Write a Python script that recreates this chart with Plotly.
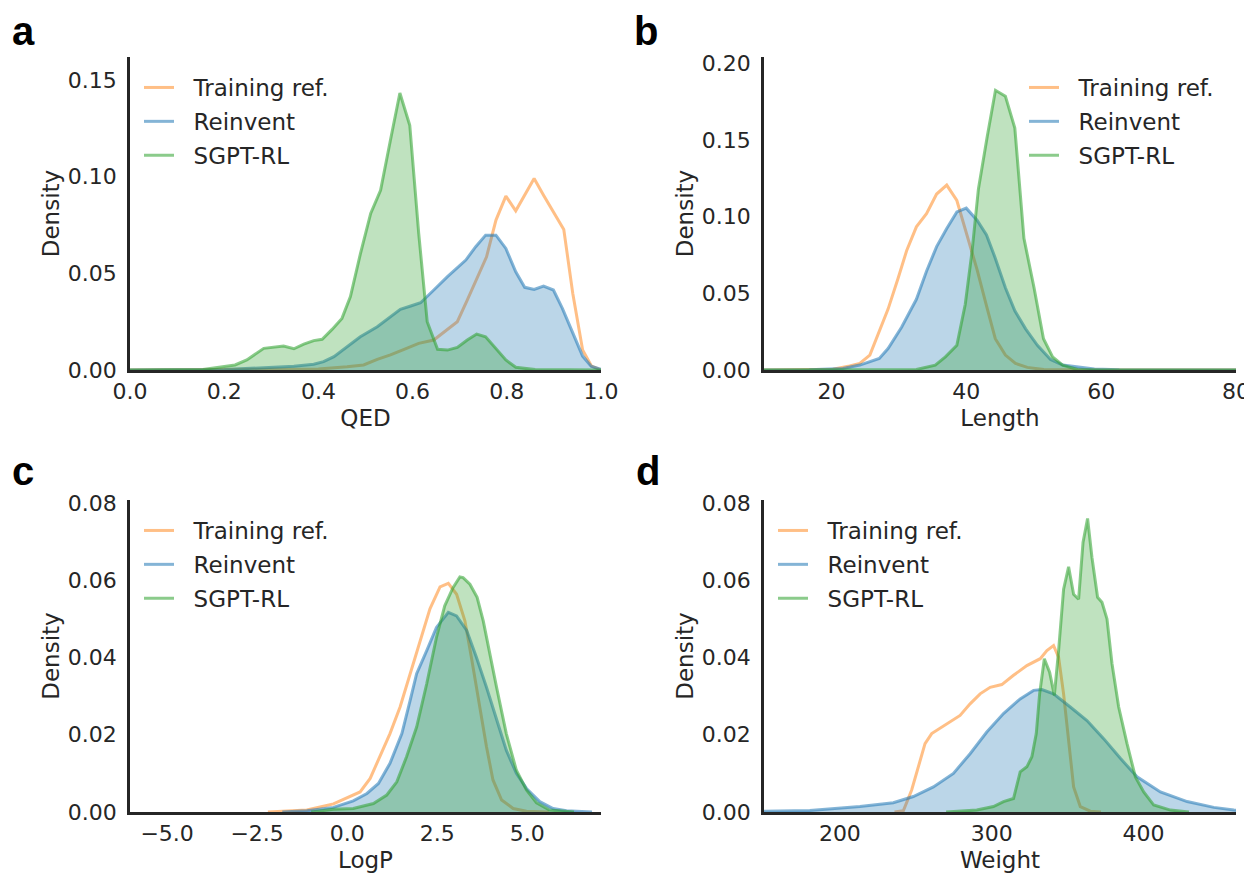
import plotly.graph_objects as go

# ---------------- data ----------------
qed_train_x = [0.0, 0.30, 0.40, 0.461, 0.496, 0.525, 0.553, 0.582, 0.613, 0.645, 0.670, 0.695, 0.716, 0.738, 0.757,
               0.777, 0.798, 0.819, 0.838, 0.858, 0.878, 0.899, 0.921, 0.940, 0.961, 0.980, 1.0]
qed_train_y = [0.0, 0.0001, 0.0005, 0.0017, 0.0026, 0.0055, 0.0078, 0.0107, 0.0138, 0.0155, 0.0203, 0.025, 0.0362,
               0.0483, 0.0586, 0.0776, 0.090, 0.0824, 0.0905, 0.0991, 0.0905, 0.0819, 0.0727, 0.0397, 0.0103, 0.002, 0.0]
qed_rein_x = [0.0, 0.20, 0.284, 0.348, 0.390, 0.411, 0.433, 0.461, 0.489, 0.525, 0.553, 0.574, 0.596, 0.617, 0.645,
              0.674, 0.713, 0.734, 0.755, 0.777, 0.798, 0.819, 0.838, 0.858, 0.878, 0.899, 0.918, 0.940, 0.961, 0.979, 1.0]
qed_rein_y = [0.0, 0.0002, 0.0012, 0.002, 0.003, 0.0043, 0.0069, 0.012, 0.0172, 0.0224, 0.0276, 0.0314, 0.0331, 0.0348,
              0.0414, 0.0483, 0.0569, 0.0638, 0.0698, 0.0698, 0.0629, 0.0508, 0.0428, 0.0417, 0.0434, 0.0414, 0.0319,
              0.019, 0.0072, 0.002, 0.0003]
qed_sgpt_x = [0.0, 0.155, 0.223, 0.248, 0.284, 0.326, 0.348, 0.369, 0.390, 0.408, 0.429, 0.450, 0.468, 0.489, 0.511,
              0.532, 0.553, 0.573, 0.594, 0.613, 0.631, 0.653, 0.674, 0.695, 0.716, 0.736, 0.755, 0.777, 0.798, 0.819,
              0.86, 1.0]
qed_sgpt_y = [0.0, 0.0003, 0.0026, 0.0052, 0.0112, 0.0124, 0.011, 0.0134, 0.0152, 0.0159, 0.021, 0.0267, 0.038, 0.060,
              0.081, 0.093, 0.119, 0.1434, 0.1267, 0.0707, 0.025, 0.0107, 0.0103, 0.0117, 0.0155, 0.0186, 0.0172,
              0.0112, 0.0052, 0.0014, 0.0002, 0.0]

len_train_x = [10, 16.0, 20.2, 22.7, 24.2, 25.7, 26.9, 28.4, 29.9, 31.15, 32.6, 34.1, 35.6, 37.1, 38.6, 40.1, 41.6,
               43.0, 44.3, 45.8, 47.3, 49.05, 51.5, 60, 80]
len_train_y = [0.0, 0.0001, 0.0005, 0.0026, 0.0043, 0.0097, 0.0225, 0.0397, 0.060, 0.0777, 0.0933, 0.1019, 0.1147,
               0.1205, 0.1105, 0.088, 0.0654, 0.0418, 0.0204, 0.0097, 0.0043, 0.0017, 0.0003, 0.0, 0.0]
len_rein_x = [10, 16.7, 21.7, 24.2, 27.1, 28.4, 30.4, 32.6, 34.1, 35.6, 37.1, 38.6, 40.0, 41.6, 43.0, 44.3, 45.8, 47.2,
              48.8, 50.55, 52.5, 54.3, 59.0, 62.7, 80]
len_rein_y = [0.0, 0.0002, 0.001, 0.0032, 0.0075, 0.014, 0.0279, 0.0461, 0.0644, 0.0804, 0.0922, 0.103, 0.1055, 0.0976,
              0.088, 0.0729, 0.0536, 0.0386, 0.0268, 0.0161, 0.0069, 0.0032, 0.0006, 0.0001, 0.0]
len_sgpt_x = [10, 28.0, 32.6, 35.4, 36.9, 38.6, 39.85, 40.85, 41.8, 43.1, 44.33, 45.8, 47.2, 48.55, 50.05, 51.45, 52.8,
              54.3, 56.5, 60, 80]
len_sgpt_y = [0.0, 0.0, 0.0003, 0.0032, 0.0086, 0.0161, 0.0429, 0.0772, 0.118, 0.152, 0.1823, 0.1785, 0.1577, 0.0858,
              0.0536, 0.0204, 0.0086, 0.0032, 0.0003, 0.0, 0.0]

logp_train_x = [-2.2, -1.8, -1.12, -0.38, 0.36, 0.64, 0.91, 1.19, 1.47, 1.75, 2.02, 2.30, 2.58, 2.81, 3.04, 3.27, 3.45,
                3.68, 3.87, 4.05, 4.29, 4.61, 4.98, 5.6]
logp_train_y = [0.0, 0.0002, 0.0005, 0.0021, 0.0052, 0.0087, 0.0143, 0.0203, 0.0272, 0.0358, 0.0444, 0.0526, 0.0583,
                0.0592, 0.0564, 0.0495, 0.0401, 0.0272, 0.0169, 0.0083, 0.0031, 0.0009, 0.0002, 0.0]
logp_rein_x = [-1.8, -1.12, -0.38, 0.17, 0.55, 0.87, 1.19, 1.52, 1.75, 1.93, 2.21, 2.48, 2.81, 3.04, 3.32, 3.59, 3.87,
               4.15, 4.42, 4.70, 4.98, 5.35, 5.72, 6.09, 6.8]
logp_rein_y = [0.0, 0.0003, 0.0012, 0.0029, 0.0048, 0.0074, 0.0126, 0.0203, 0.0289, 0.0358, 0.0418, 0.0478, 0.0517,
               0.0508, 0.047, 0.0401, 0.0323, 0.0237, 0.016, 0.010, 0.0061, 0.0027, 0.0009, 0.0003, 0.0]
logp_sgpt_x = [-1.0, -0.38, 0.17, 0.73, 1.10, 1.38, 1.65, 1.93, 2.21, 2.48, 2.71, 2.94, 3.13, 3.22, 3.41, 3.61, 3.78,
               3.96, 4.15, 4.42, 4.70, 4.98, 5.26, 5.62, 6.3]
logp_sgpt_y = [0.0, 0.0007, 0.0009, 0.0022, 0.0044, 0.0078, 0.0143, 0.022, 0.0332, 0.0452, 0.0534, 0.0581, 0.0609,
               0.0607, 0.059, 0.0556, 0.0495, 0.041, 0.0323, 0.0203, 0.0108, 0.0057, 0.0024, 0.0005, 0.0]

mw_train_x = [236.0, 241.8, 247.3, 251.7, 256.1, 260.5, 268.2, 279.2, 285.8, 292.4, 299.0, 306.7, 314.4, 323.2, 332.0,
              336.4, 340.8, 344.1, 347.4, 350.7, 354.0, 358.4, 365.0, 372.0]
mw_train_y = [0.0, 0.0003, 0.0057, 0.0117, 0.0177, 0.0203, 0.0222, 0.025, 0.028, 0.0306, 0.0323, 0.033, 0.0354, 0.0379,
              0.0397, 0.0418, 0.0431, 0.0401, 0.0306, 0.0186, 0.0065, 0.0014, 0.0002, 0.0]
mw_rein_x = [150.0, 180.2, 213.2, 235.2, 248.4, 261.6, 274.8, 285.8, 296.8, 307.8, 318.8, 327.6, 333.1, 340.8, 351.8,
             362.8, 373.8, 384.8, 395.8, 411.2, 428.8, 446.4, 459.6, 475.0]
mw_rein_y = [0.0002, 0.0004, 0.0014, 0.0024, 0.004, 0.0065, 0.010, 0.0151, 0.0207, 0.0255, 0.0293, 0.0315, 0.0317,
             0.0306, 0.0272, 0.0237, 0.019, 0.0139, 0.0091, 0.0052, 0.0027, 0.0012, 0.0005, 0.0002]
mw_sgpt_x = [270.0, 290.2, 301.2, 307.8, 314.4, 318.8, 323.2, 326.5, 329.4, 331.6, 334.7, 338.2, 341.3, 344.1, 347.4,
             350.7, 354.0, 357.3, 360.2, 363.2, 366.1, 369.8, 372.7, 376.0, 379.3, 383.7, 389.2, 394.7, 400.2, 406.8,
             417.8, 430.0]
mw_sgpt_y = [0.0, 0.0005, 0.0014, 0.0027, 0.0035, 0.0104, 0.0117, 0.0143, 0.0203, 0.0306, 0.0397, 0.0362, 0.0302,
             0.0418, 0.0577, 0.0635, 0.0564, 0.0551, 0.0698, 0.076, 0.0659, 0.0556, 0.0543, 0.050, 0.0384, 0.0272,
             0.0177, 0.0091, 0.0052, 0.0018, 0.0005, 0.0]

series_names = ["Training ref.", "Reinvent", "SGPT-RL"]
panel_letters = ["a", "b", "c", "d"]
x_titles = ["QED", "Length", "LogP", "Weight"]

# ---------------- styling ----------------
OFF = 8                      # page body margin of the html page
FW, FH = 1252 - OFF, 876 - OFF
MB = 876 - 812               # bottom margin so that the lowest axes sit at screen y = 812
INK = "#262626"
FONT = "DejaVu Sans"
FS = 23
TFS = 22
line_cols = ["rgba(255,127,14,0.5)", "rgba(31,119,180,0.55)", "rgba(44,160,44,0.55)"]
fill_cols = [None, "rgba(31,119,180,0.3)", "rgba(44,160,44,0.3)"]
PH = FH - MB                 # plot-area height

def px_x(p):
    return (p - OFF) / FW

def px_y(p):
    return 1 - (p - OFF) / PH

cols_px = [(130, 601), (764, 1236)]
rows_px = [(57, 370), (500, 812)]

panels = [
    dict(data=[(qed_train_x, qed_train_y), (qed_rein_x, qed_rein_y), (qed_sgpt_x, qed_sgpt_y)],
         xr=[0, 1.0], yr=[0, 0.162], xt=[0, 0.2, 0.4, 0.6, 0.8, 1.0], xf=".1f",
         yt=[0, 0.05, 0.10, 0.15], yf=".2f", col=0, row=0, leg=(139, 66)),
    dict(data=[(len_train_x, len_train_y), (len_rein_x, len_rein_y), (len_sgpt_x, len_sgpt_y)],
         xr=[10, 80], yr=[0, 0.204], xt=[20, 40, 60, 80], xf="d",
         yt=[0, 0.05, 0.10, 0.15, 0.20], yf=".2f", col=1, row=0, leg=(1024, 66)),
    dict(data=[(logp_train_x, logp_train_y), (logp_rein_x, logp_rein_y), (logp_sgpt_x, logp_sgpt_y)],
         xr=[-6.03, 7.05], yr=[0, 0.0808], xt=[-5, -2.5, 0, 2.5, 5], xf=".1f",
         yt=[0, 0.02, 0.04, 0.06, 0.08], yf=".2f", col=0, row=1, leg=(139, 509)),
    dict(data=[(mw_train_x, mw_train_y), (mw_rein_x, mw_rein_y), (mw_sgpt_x, mw_sgpt_y)],
         xr=[150, 461], yr=[0, 0.0808], xt=[200, 300, 400], xf="d",
         yt=[0, 0.02, 0.04, 0.06, 0.08], yf=".2f", col=1, row=1, leg=(773, 509)),
]

fig = go.Figure()
layout = dict(width=FW, height=FH, margin=dict(l=0, r=0, t=0, b=MB, autoexpand=False),
              paper_bgcolor="white", plot_bgcolor="white",
              font=dict(family=FONT, size=FS, color=INK), annotations=[])

letter_pos = [(10, 31), (632, 31), (10, 471), (634, 471)]

for i, p in enumerate(panels):
    k = "" if i == 0 else str(i + 1)
    legname = "legend" + k
    for j, (xs, ys) in enumerate(p["data"]):
        if fill_cols[j]:
            fig.add_trace(go.Scatter(x=xs, y=ys, mode="none", fill="tozeroy", fillcolor=fill_cols[j],
                                     xaxis="x" + k, yaxis="y" + k, showlegend=False, hoverinfo="skip"))
        fig.add_trace(go.Scatter(x=xs, y=ys, mode="lines", name="\u00a0\u00a0" + series_names[j],
                                 line=dict(color=line_cols[j], width=3),
                                 xaxis="x" + k, yaxis="y" + k, legend=legname,
                                 legendgroup=f"g{i}_{j}", hoverinfo="skip"))
    cx0, cx1 = cols_px[p["col"]]
    ry0, ry1 = rows_px[p["row"]]
    layout["xaxis" + k] = dict(domain=[max(0.0, px_x(cx0)), min(1.0, px_x(cx1))], range=p["xr"], anchor="y" + k,
                               tickvals=p["xt"], tickformat=p["xf"], showgrid=False, zeroline=False,
                               showline=True, linecolor=INK, linewidth=2.5, ticks="",
                               ticklabelstandoff=0, automargin=False, ticklabeloverflow="allow",
                               title=dict(text=x_titles[i], standoff=7, font=dict(size=FS)),
                               tickfont=dict(size=TFS, color=INK))
    layout["yaxis" + k] = dict(domain=[max(0.0, px_y(ry1)), min(1.0, px_y(ry0))], range=p["yr"], anchor="x" + k,
                               tickvals=p["yt"], tickformat=p["yf"], showgrid=False, zeroline=False,
                               showline=True, linecolor=INK, linewidth=2.5, ticks="",
                               ticklabelstandoff=6, automargin=False, ticklabeloverflow="allow",
                               title=dict(text="Density", standoff=2, font=dict(size=FS)),
                               tickfont=dict(size=TFS, color=INK))
    lx, ly = p["leg"]
    layout[legname] = dict(x=px_x(lx), y=px_y(ly), xanchor="left", yanchor="top",
                           bgcolor="rgba(0,0,0,0)", font=dict(size=FS, color=INK),
                           traceorder="grouped", tracegroupgap=1, itemwidth=30)
    layout["annotations"].append(dict(text="<b>" + panel_letters[i] + "</b>", xref="paper", yref="paper",
                                      x=px_x(letter_pos[i][0]), y=px_y(letter_pos[i][1]),
                                      xanchor="left", yanchor="middle", showarrow=False,
                                      font=dict(family="Liberation Sans Narrow, Liberation Sans, Arial",
                                                size=40, color="black")))

fig.update_layout(**layout)
fig.write_html("out.html")
